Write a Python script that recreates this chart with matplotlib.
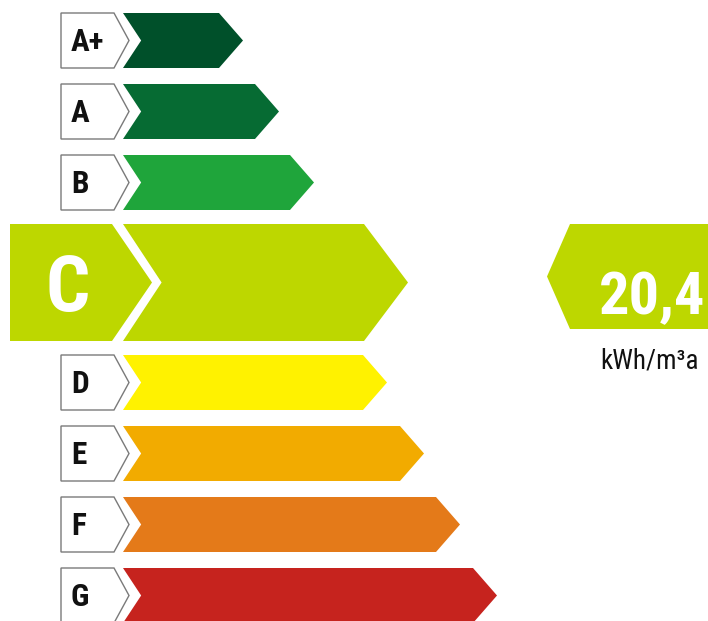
import os
import matplotlib
matplotlib.use("Agg")
import matplotlib.pyplot as plt
from matplotlib.patches import Polygon
from matplotlib import font_manager as fm

# ── data ─────────────────────────────────────────────
classes = ["A+", "A", "B", "C", "D", "E", "F", "G"]
bar_lengths = [120, 156, 191, 285, 264, 301, 337, 374]   # bar tip, px from bar start
colors = ["#00502A", "#066B33", "#1FA53B", "#BDD700",
          "#FFF200", "#F2AB00", "#E47A19", "#C6231E"]
rating = "C"
value_text = "20,4"
unit_text = "kWh/m³a"


# ── pick a narrow font if one is installed ───────────
def find_narrow(bold):
    prefs = ["liberation sans narrow", "roboto condensed", "noto sans",
             "dejavu sans", "open sans", "arial narrow"]
    best = None
    for f in fm.fontManager.ttflist:
        key = (f.name + " " + os.path.basename(f.fname)).lower()
        if not ("narrow" in key or "condensed" in key):
            continue
        if "extra" in key or "semi" in key or "ultra" in key:
            continue
        if f.style != "normal" or "italic" in key or "oblique" in key:
            continue
        w = f.weight if isinstance(f.weight, int) else (700 if "bold" in str(f.weight) else 400)
        if bold != (w >= 600):
            continue
        if not bold and w > 450:
            continue
        rank = len(prefs)
        for i, p in enumerate(prefs):
            if f.name.lower().startswith(p):
                rank = i
                break
        if best is None or rank < best[0]:
            best = (rank, f.fname)
    return best[1] if best else None


bold_file = find_narrow(True)
reg_file = find_narrow(False)
narrow = bold_file is not None
shrink = 1.0 if narrow else 0.8


def fp(size, bold=True):
    path = bold_file if bold else (reg_file or bold_file)
    if path:
        return fm.FontProperties(fname=path, size=size * shrink)
    return fm.FontProperties(family=["Liberation Sans", "DejaVu Sans"],
                             weight="bold" if bold else "normal", size=size * shrink)


# ── layout (pixels) ──────────────────────────────────
W, H = 708, 621
fig = plt.figure(figsize=(W / 100, H / 100), dpi=100)
ax = fig.add_axes([0, 0, 1, 1])
ax.set_xlim(0, W)
ax.set_ylim(H, 0)
ax.axis("off")

small_h, big_h = 55, 117
bar_x0 = 123
box_x0, box_x1 = 61, 114

y = 13
for cls, length, col in zip(classes, bar_lengths, colors):
    sel = cls == rating
    h = big_h if sel else small_h
    if sel:
        y -= 2
    top, bot, mid = y, y + h, y + h / 2
    notch = 0.66 * h / 2
    tip = 44 if sel else 24
    x_tip = bar_x0 + length
    bar = Polygon([(bar_x0, top), (x_tip - tip, top), (x_tip, mid),
                   (x_tip - tip, bot), (bar_x0, bot), (bar_x0 + notch, mid)],
                  closed=True, facecolor=col, edgecolor="none")
    ax.add_patch(bar)

    if sel:
        lab = Polygon([(10, top), (box_x1 - 2, top), (box_x1 + 38, mid),
                       (box_x1 - 2, bot), (10, bot)],
                      closed=True, facecolor=col, edgecolor="none")
        ax.add_patch(lab)
        ax.text(67.5, mid + 29, cls, color="white", fontproperties=fp(56),
                ha="center", va="baseline")
        # indicator on the right
        ind = Polygon([(547, mid - 6), (570, top), (W + 5, top),
                       (W + 5, bot - 12), (570, bot - 12)],
                      closed=True, facecolor=col, edgecolor="none")
        ax.add_patch(ind)
        ax.text(599, mid + 32, value_text, color="white", fontproperties=fp(43.5),
                ha="left", va="baseline")
        ax.text(600, bot + 27, unit_text, color="#111111",
                fontproperties=fp(19.5, bold=False), ha="left", va="baseline")
        y = bot + 14
    else:
        lab = Polygon([(box_x0, top), (box_x1, top), (box_x1 + 15, mid),
                       (box_x1, bot), (box_x0, bot)],
                      closed=True, facecolor="white", edgecolor="#7a7a7a",
                      linewidth=1.0)
        ax.add_patch(lab)
        ax.text(71, mid + 10.5, cls, color="#111111", fontproperties=fp(22.5),
                ha="left", va="baseline")
        y = bot + 16

fig.savefig("out.png", dpi=100, facecolor="white")
